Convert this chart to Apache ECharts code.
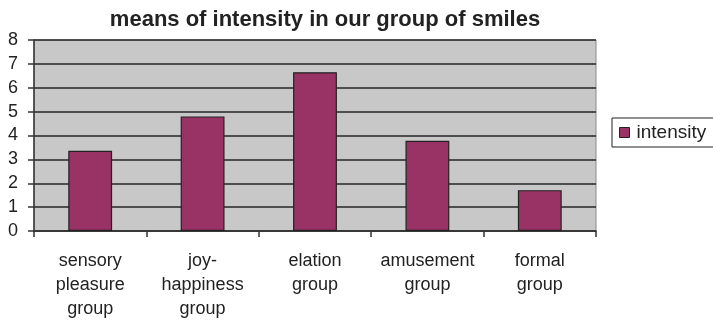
<!DOCTYPE html>
<html>
<head>
<meta charset="utf-8">
<script src="https://cdn.jsdelivr.net/npm/echarts@6/dist/echarts.min.js"></script>
<style>
  html, body { margin: 0; padding: 0; background: #fff; }
  #chart { width: 713px; height: 324px; }
</style>
</head>
<body>
<div id="chart"></div>
<script>
// Category labels (line breaks as printed under each bar)
const categories = [
  'sensory\npleasure\ngroup',
  'joy-\nhappiness\ngroup',
  'elation\ngroup',
  'amusement\ngroup',
  'formal\ngroup'
];
// Mean intensity per group
const intensity = [3.36, 4.8, 6.65, 3.78, 1.71];
const seriesName = 'intensity';
const titleText = 'means of intensity in our group of smiles';

const FONT = '"Liberation Sans", Arial, sans-serif';

const chart = echarts.init(document.getElementById('chart'));
chart.setOption({
  animation: false,
  backgroundColor: '#ffffff',
  title: {
    text: titleText,
    left: 320,
    textAlign: 'center',
    top: 4,
    textStyle: { fontFamily: FONT, fontSize: 22, fontWeight: 'bold', color: '#222' }
  },
  legend: {
    data: [{ name: seriesName, icon: 'rect' }],
    left: 612,
    top: 118,
    orient: 'vertical',
    itemWidth: 10,
    itemHeight: 10,
    itemGap: 0,
    padding: [5, 30, 5, 7],
    borderColor: '#222',
    borderWidth: 1,
    textStyle: { fontFamily: FONT, fontSize: 19, color: '#222', padding: [0, 0, 0, 2] },
    itemStyle: { borderColor: '#222', borderWidth: 1 }
  },
  grid: {
    left: 34, right: 117, top: 40, bottom: 93,
    show: true,
    backgroundColor: '#c8c8c8',
    borderColor: '#8a8a8a',
    borderWidth: 1
  },
  xAxis: {
    type: 'category',
    data: categories,
    axisLine: { lineStyle: { color: '#333', width: 1.5 } },
    axisTick: { show: true, length: 6, alignWithLabel: false, lineStyle: { color: '#333', width: 1.5 } },
    axisLabel: {
      interval: 0,
      margin: 18,
      lineHeight: 24,
      fontFamily: FONT,
      fontSize: 18,
      color: '#222',
      align: 'center'
    },
    splitLine: { show: false }
  },
  yAxis: {
    type: 'value',
    min: 0,
    max: 8,
    interval: 1,
    axisLine: { show: true, lineStyle: { color: '#333', width: 1.5 } },
    axisTick: { show: true, length: 6, lineStyle: { color: '#333', width: 1.5 } },
    axisLabel: { fontFamily: FONT, fontSize: 18, color: '#222', margin: 16 },
    splitLine: { show: true, lineStyle: { color: '#262626', width: 1.6 } }
  },
  series: [{
    name: seriesName,
    type: 'bar',
    data: intensity,
    barWidth: '39%',
    itemStyle: { color: '#993366', borderColor: '#222', borderWidth: 1.2 }
  }]
});
</script>
</body>
</html>
